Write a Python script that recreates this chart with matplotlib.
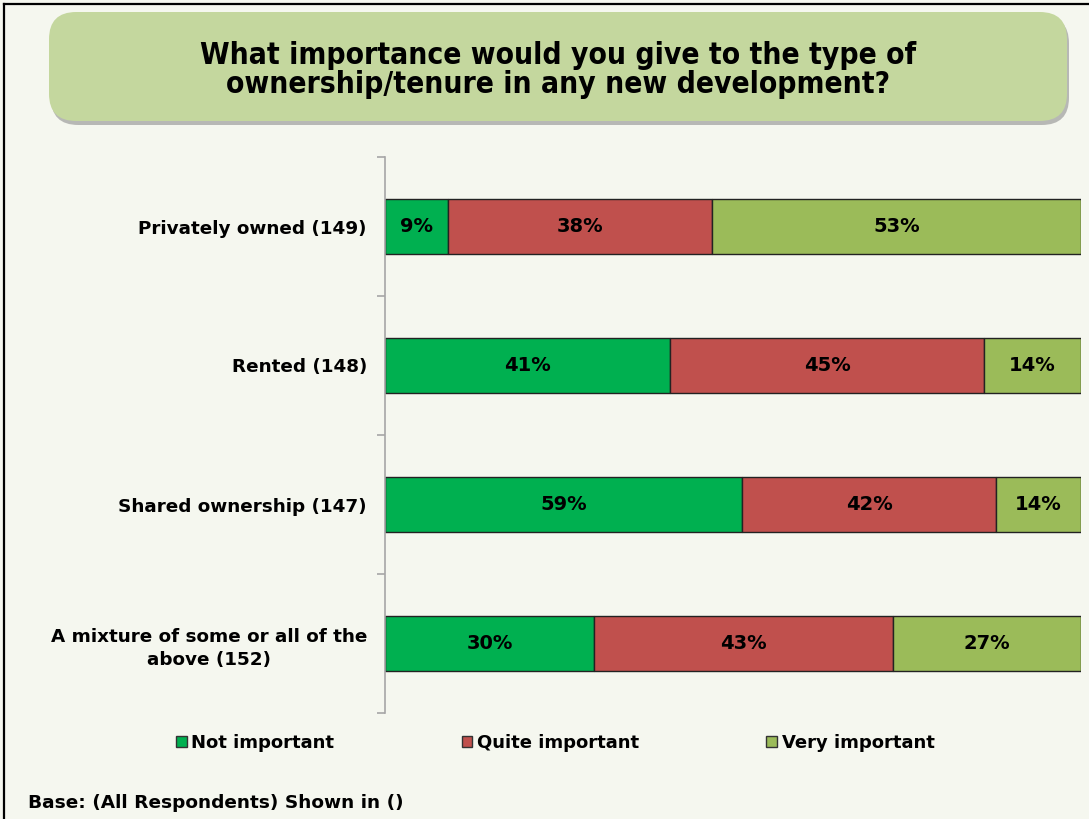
import matplotlib
matplotlib.use("Agg")
import matplotlib.pyplot as plt
from matplotlib.patches import FancyBboxPatch, Patch
from matplotlib.lines import Line2D
import numpy as np

# Survey results
categories = ["Privately owned (149)", "Rented (148)", "Shared ownership (147)",
              "A mixture of some or all of the\nabove (152)"]
not_important = [9, 41, 59, 30]
quite_important = [38, 45, 42, 43]
very_important = [53, 14, 14, 27]
series_names = ["Not important", "Quite important", "Very important"]
colors = ["#00B050", "#C0504D", "#9BBB59"]

title = "What importance would you give to the type of\nownership/tenure in any new development?"
base_note = "Base: (All Respondents) Shown in ()"

BG = "#F5F7EF"
W, H = 1089, 819
fig = plt.figure(figsize=(W / 100, H / 100), dpi=100, facecolor=BG)

def fx(px):
    return px / W

def fy(py):
    return 1 - py / H

# Outer frame (left and top edges)
fig.add_artist(Line2D([fx(4), fx(4)], [fy(4), 0], color="black", lw=1.6, transform=fig.transFigure))
fig.add_artist(Line2D([fx(4), 1], [fy(4), fy(4)], color="black", lw=1.6, transform=fig.transFigure))

# Title banner with drop shadow
bx0, by0, bx1, by1 = 49, 12, 1067, 121
shadow = FancyBboxPatch((fx(bx0 + 2), fy(by1 + 4)), fx(bx1 - bx0), fy(by0) - fy(by1),
                        boxstyle="round,pad=0,rounding_size=0.025", transform=fig.transFigure,
                        facecolor="#8f8f8f", edgecolor="none", alpha=0.6, mutation_aspect=W / H)
fig.add_artist(shadow)
banner = FancyBboxPatch((fx(bx0), fy(by1)), fx(bx1 - bx0), fy(by0) - fy(by1),
                        boxstyle="round,pad=0,rounding_size=0.025", transform=fig.transFigure,
                        facecolor="#C4D79E", edgecolor="none", mutation_aspect=W / H)
fig.add_artist(banner)
fig.text(fx(558), fy(70), title, ha="center", va="center", fontsize=21.5,
         fontweight="bold", family="DejaVu Sans", fontstretch="condensed",
         linespacing=1.0, color="black")

# Plot area
ax = fig.add_axes([fx(385), fy(713), fx(1081 - 385), fy(157) - fy(713)])
ax.set_facecolor(BG)

data = np.array([not_important, quite_important, very_important], dtype=float)
totals = data.sum(axis=0)
shares = data / totals
y = np.arange(len(categories))
left = np.zeros(len(categories))
for i, (name, col) in enumerate(zip(series_names, colors)):
    ax.barh(y, shares[i], left=left, height=0.4, color=col, edgecolor="#222222",
            linewidth=1.0, label=name)
    for j in range(len(categories)):
        ax.text(left[j] + shares[i][j] / 2, y[j], f"{int(data[i][j])}%",
                ha="center", va="center", fontsize=14, fontweight="bold", color="black")
    left += shares[i]

ax.set_xlim(0, 1)
ax.set_ylim(len(categories) - 0.5, -0.5)
for s in ["top", "right", "bottom"]:
    ax.spines[s].set_visible(False)
ax.spines["left"].set_color("#A6A6A6")
ax.spines["left"].set_linewidth(1.2)
ax.set_xticks([])
ax.set_yticks(y)
ax.set_yticklabels(categories, fontsize=13.2, fontweight="bold", multialignment="center",
                   linespacing=1.4)
ax.tick_params(axis="y", which="major", length=0, pad=13)
ax.set_yticks(np.arange(-0.5, len(categories), 1), minor=True)
ax.tick_params(axis="y", which="minor", length=6, color="#A6A6A6", width=1.2)

# Legend
handles = [Patch(facecolor=c, edgecolor="#333333", linewidth=1.0) for c in colors]
fig.legend(handles, series_names, loc="center left", bbox_to_anchor=(fx(176), fy(743)),
           ncol=3, frameon=False, prop={"weight": "bold", "size": 13},
           handlelength=0.6, handleheight=0.6, handletextpad=0.25, columnspacing=7.05,
           borderaxespad=0, borderpad=0)

fig.text(fx(28), fy(803), base_note, ha="left", va="center", fontsize=13.3, fontweight="bold")

fig.savefig("out.png", dpi=100, facecolor=BG)
